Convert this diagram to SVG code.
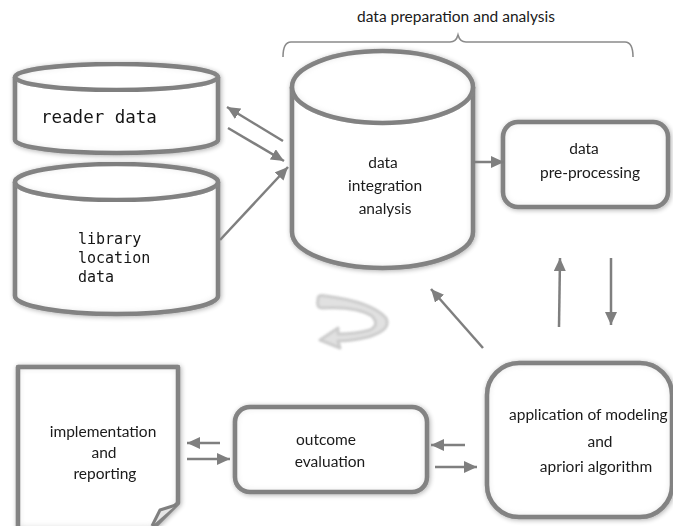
<svg xmlns="http://www.w3.org/2000/svg" width="673" height="526" viewBox="0 0 673 526">
<defs>
<filter id="soft" x="-10%" y="-10%" width="120%" height="120%">
<feGaussianBlur in="SourceAlpha" stdDeviation="2.5" result="b"/>
<feOffset dx="1" dy="1" in="b" result="o"/>
<feComponentTransfer in="o" result="s"><feFuncA type="linear" slope="0.3"/></feComponentTransfer>
<feMerge><feMergeNode in="s"/><feMergeNode in="SourceGraphic"/></feMerge>
</filter>
<filter id="inset" x="-5%" y="-5%" width="110%" height="110%">
<feFlood flood-color="#8c8c8c" result="f"/>
<feComposite in="f" in2="SourceAlpha" operator="out" result="outside"/>
<feGaussianBlur in="outside" stdDeviation="4" result="ob"/>
<feComposite in="ob" in2="SourceAlpha" operator="in" result="ins"/>
<feMerge><feMergeNode in="SourceGraphic"/><feMergeNode in="ins"/></feMerge>
</filter>
<filter id="blur1"><feGaussianBlur stdDeviation="0.8"/></filter>
<marker id="ah" markerWidth="13" markerHeight="12" refX="10" refY="5" orient="auto" markerUnits="userSpaceOnUse" viewBox="0 0 10 10" preserveAspectRatio="none">
<path d="M0,0 L10,5 L0,10 Z" fill="#7f7f7f"/>
</marker>
</defs>
<style>
.shape{fill:#fff;stroke:#7f7f7f;stroke-width:4.5;stroke-linejoin:round;filter:url(#inset)}
.mono{font-family:"DejaVu Sans Mono","Liberation Mono",monospace;fill:#141414}
.sans{font-family:Lato,"Open Sans","Liberation Sans",sans-serif;fill:#1a1a1a;font-size:15.5px}
.conn line{stroke:#7f7f7f;stroke-width:2.5;marker-end:url(#ah)}
</style>
<rect width="673" height="526" fill="#fff"/>

<g id="bracket">
<path d="M283,57 Q283,42 291,42 L450,42 Q456,42 458,35 Q460,42 466,42 L625,42 Q633,42 633,57" fill="none" stroke="#8a8a8a" stroke-width="1.6"/>
<text class="sans" x="456" y="22" text-anchor="middle" font-size="14">data preparation and analysis</text>
</g>

<g id="reader-data" filter="url(#soft)">
<path class="shape" d="M15,77 L15,140 A101.5,13 0 0 0 218,140 L218,77"/>
<ellipse class="shape" cx="116.5" cy="77" rx="101.5" ry="13"/>
<text class="mono" x="41" y="123" font-size="17.5">reader data</text>
</g>

<g id="library-location-data" filter="url(#soft)">
<path class="shape" d="M15,182 L15,296 A101.5,18 0 0 0 218,296 L218,182"/>
<ellipse class="shape" cx="116.5" cy="182" rx="101.5" ry="18"/>
<text class="mono" x="78" y="244" font-size="15">library</text>
<text class="mono" x="78" y="263" font-size="15">location</text>
<text class="mono" x="78" y="282" font-size="15">data</text>
</g>

<g id="data-integration-analysis" filter="url(#soft)">
<path class="shape" d="M292,87 L292,232 A90.5,36 0 0 0 473,232 L473,87"/>
<ellipse class="shape" cx="382.5" cy="87" rx="90.5" ry="36"/>
<text class="sans" x="383" y="168" text-anchor="middle">data</text>
<text class="sans" x="385" y="191" text-anchor="middle">integration</text>
<text class="sans" x="385" y="214" text-anchor="middle">analysis</text>
</g>

<g id="data-pre-processing" filter="url(#soft)">
<rect class="shape" x="503" y="122" width="165" height="85" rx="15"/>
<text class="sans" x="584" y="154" text-anchor="middle">data</text>
<text class="sans" x="590" y="178" text-anchor="middle">pre-processing</text>
</g>

<g id="application-modeling" filter="url(#soft)">
<rect class="shape" x="487" y="363" width="185" height="154" rx="32"/>
<text class="sans" x="509" y="420">application of modeling</text>
<text class="sans" x="600" y="447" text-anchor="middle">and</text>
<text class="sans" x="596" y="472" text-anchor="middle">apriori algorithm</text>
</g>

<g id="outcome-evaluation" filter="url(#soft)">
<rect class="shape" x="235" y="407" width="192" height="85" rx="15"/>
<text class="sans" x="326" y="445" text-anchor="middle">outcome</text>
<text class="sans" x="330" y="467" text-anchor="middle">evaluation</text>
</g>

<g id="implementation-reporting" filter="url(#soft)">
<path class="shape" d="M18,530 L18,367 L178,367 L178,503 L151,530"/>
<path d="M152,526 L160,510 L176,505" fill="#e6e6e6" stroke="#7f7f7f" stroke-width="3" stroke-linejoin="round"/>
<text class="sans" x="103" y="437" text-anchor="middle">implementation</text>
<text class="sans" x="104" y="458" text-anchor="middle">and</text>
<text class="sans" x="105" y="479" text-anchor="middle">reporting</text>
</g>

<g id="cycle-icon" filter="url(#blur1)" opacity="0.85">
<path d="M318,299 Q318,294 326,296 Q372,302 386,318 Q392,330 368,337 Q352,341 338,341 L340,348 L320,340 L338,328 L338,334 Q356,334 370,330 Q380,325 372,316 Q356,306 322,308 Q316,308 318,299 Z" fill="#dcdcdc" stroke="#c4c4c4" stroke-width="3" stroke-linejoin="round"/>
</g>

<g id="connectors" class="conn">
<line x1="283" y1="141" x2="227" y2="107"/>
<line x1="228" y1="128" x2="284" y2="161"/>
<line x1="220" y1="240" x2="288" y2="167"/>
<line x1="473" y1="162" x2="504" y2="162"/>
<line x1="559" y1="327" x2="560" y2="258"/>
<line x1="611" y1="258" x2="611" y2="325"/>
<line x1="483" y1="348" x2="431" y2="289"/>
<line x1="465" y1="445" x2="431" y2="445"/>
<line x1="435" y1="467" x2="477" y2="467"/>
<line x1="220" y1="443" x2="187" y2="443"/>
<line x1="187" y1="459" x2="230" y2="459"/>
</g>
</svg>
